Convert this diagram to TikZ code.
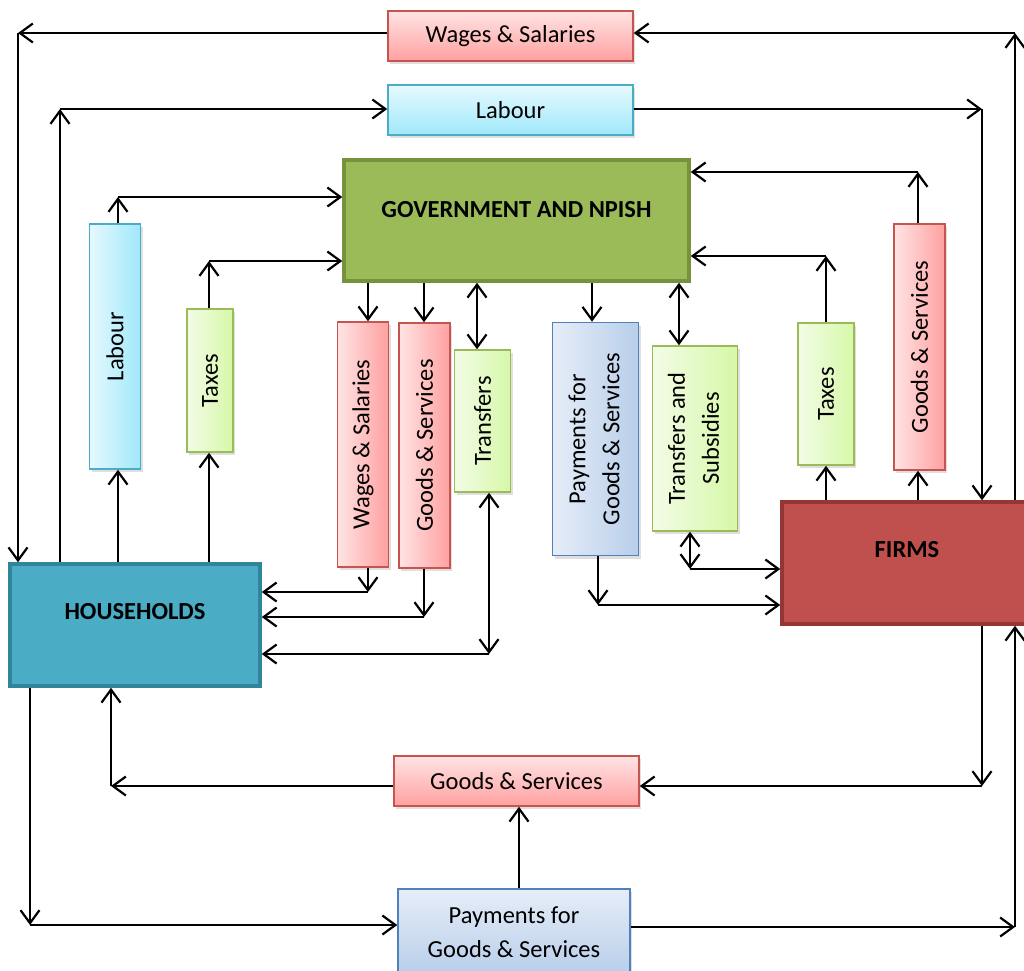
\documentclass[tikz,border=0pt]{standalone}
\usepackage{fontspec}
\usepackage{graphicx}
\setmainfont{Carlito}
\usetikzlibrary{arrows.meta,shadows}
\definecolor{pinkL}{RGB}{255,228,228}
\definecolor{pinkD}{RGB}{255,160,160}
\definecolor{pinkB}{RGB}{200,84,80}
\definecolor{cyanL}{RGB}{230,249,255}
\definecolor{cyanD}{RGB}{160,232,250}
\definecolor{cyanB}{RGB}{75,172,198}
\definecolor{grnL}{RGB}{243,252,230}
\definecolor{grnD}{RGB}{214,248,168}
\definecolor{grnB}{RGB}{155,187,89}
\definecolor{bluL}{RGB}{230,237,248}
\definecolor{bluD}{RGB}{184,206,234}
\definecolor{bluB}{RGB}{79,129,189}
\definecolor{govF}{RGB}{155,187,89}
\definecolor{govB}{RGB}{118,146,60}
\definecolor{hhF}{RGB}{75,172,198}
\definecolor{hhB}{RGB}{49,133,155}
\definecolor{fiF}{RGB}{192,80,77}
\definecolor{fiB}{RGB}{148,54,52}
\begin{document}
\begin{tikzpicture}[x=1pt,y=-1pt,
  every node/.style={font=\fontsize{24.5}{34}\selectfont, inner sep=0pt, align=center},
  box/.style={draw, line width=1.5pt, drop shadow={opacity=0.25,shadow xshift=2pt,shadow yshift=-3pt}},
  pinkh/.style={box, draw=pinkB, top color=pinkL, bottom color=pinkD},
  pinkv/.style={box, draw=pinkB, left color=pinkL, right color=pinkD},
  cyanh/.style={box, draw=cyanB, top color=cyanL, bottom color=cyanD},
  cyanv/.style={box, draw=cyanB, left color=cyanL, right color=cyanD},
  grnv/.style={box, draw=grnB, left color=grnL, right color=grnD},
  bluv/.style={box, draw=bluB, left color=bluL, right color=bluD},
  bluh/.style={box, draw=bluB, top color=bluL, bottom color=bluD},
  bigbox/.style={draw, line width=3.5pt},
  bold/.style={font=\fontsize{24.5}{34}\selectfont\bfseries},
  sz/.style 2 args={minimum width=#1, minimum height=#2},
  arr/.style={line width=2.2pt, -{Straight Barb[length=13pt,width=19pt]}},
  dbl/.style={line width=2.2pt, {Straight Barb[length=13pt,width=19pt]}-{Straight Barb[length=13pt,width=19pt]}}
]
\useasboundingbox (0,0) rectangle (1024,970);
\clip (0,0) rectangle (1024,970);

% top horizontal boxes
\node[pinkh, sz={245pt}{50pt}] (ws1) at (510.5,36) {Wages \& Salaries};
\node[cyanh, sz={245pt}{50pt}] (lab1) at (510.5,110) {Labour};

% main sectors
\node[bigbox, fill=govF, draw=govB, sz={345pt}{121pt},
  label={[bold, yshift=11pt]center:GOVERNMENT AND NPISH}] (gov) at (516.5,220.5) {};
\node[bigbox, fill=hhF, draw=hhB, sz={250pt}{122pt},
  label={[bold, yshift=13pt]center:HOUSEHOLDS}] (hh) at (135,625) {};
\node[bigbox, fill=fiF, draw=fiB, sz={250pt}{122pt},
  label={[bold, yshift=13pt]center:FIRMS}] (firms) at (907,563) {};

% vertical boxes
\node[cyanv, sz={51pt}{245pt}] (labv) at (115,346.5) {\rotatebox{90}{Labour}};
\node[grnv, sz={46pt}{143pt}] (taxL) at (210,380.5) {\rotatebox{90}{Taxes}};
\node[pinkv, sz={51pt}{245pt}] (wsv) at (363,444.5) {\rotatebox{90}{Wages \& Salaries}};
\node[pinkv, sz={51pt}{245pt}] (gsv) at (424.5,445.5) {\rotatebox{90}{Goods \& Services}};
\node[grnv, sz={56pt}{142pt}] (trv) at (482.5,421) {\rotatebox{90}{Transfers}};
\node[bluv, sz={86pt}{233pt}] (payv) at (595.5,439) {\rotatebox{90}{\begin{tabular}{@{}c@{}}Payments for\\Goods \& Services\end{tabular}}};
\node[grnv, sz={85pt}{185pt}] (tsv) at (695,438.5) {\rotatebox{90}{\begin{tabular}{@{}c@{}}Transfers and\\Subsidies\end{tabular}}};
\node[grnv, sz={56pt}{142pt}] (taxR) at (826,394) {\rotatebox{90}{Taxes}};
\node[pinkv, sz={51pt}{246pt}] (gsR) at (919.5,347) {\rotatebox{90}{Goods \& Services}};

% bottom boxes
\node[pinkh, sz={245pt}{50pt}] (gsB) at (516.5,781) {Goods \& Services};
\node[bluh, sz={232pt}{86pt}] (payB) at (514,932) {Payments for\\Goods \& Services};

% corner coordinates
\coordinate (c1) at (1015,33);
\coordinate (c2) at (18,33);
\coordinate (c3) at (60,109);
\coordinate (c4) at (982,109);
\coordinate (c5) at (118,197);
\coordinate (c6) at (209,261);
\coordinate (c7) at (368,592);
\coordinate (c8) at (424,617);
\coordinate (c9a) at (477,300);
\coordinate (c9) at (489,654);
\coordinate (c10a) at (592,300);
\coordinate (c10) at (598,605);
\coordinate (c11a) at (679,300);
\coordinate (c11) at (690,569);
\coordinate (c12) at (826,256);
\coordinate (c13) at (918,172);
\coordinate (c14) at (982,786);
\coordinate (c15) at (111,786);
\coordinate (c16) at (30,925);
\coordinate (c17) at (1015,927);
\coordinate (c18) at (519,850);

% wages loop
\draw[arr] (firms.north -| c1) -- (c1);
\draw[arr] (c1) -- (c1 -| ws1.east);
\draw[arr] (c2 -| ws1.west) -- (c2);
\draw[arr] (c2) -- (c2 |- hh.north);
% labour loop
\draw[arr] (hh.north -| c3) -- (c3);
\draw[arr] (c3) -- (c3 -| lab1.west);
\draw[arr] (lab1.east |- c4) -- (c4);
\draw[arr] (c4) -- (c4 |- firms.north);
% households -> government
\draw[arr] (hh.north -| c5) -- (labv.south -| c5);
\draw[arr] (labv.north -| c5) -- (c5);
\draw[arr] (c5) -- (c5 -| gov.west);
\draw[arr] (hh.north -| c6) -- (taxL.south -| c6);
\draw[arr] (taxL.north -| c6) -- (c6);
\draw[arr] (c6) -- (c6 -| gov.west);
% government -> households
\draw[arr] (gov.south -| c7) -- (wsv.north -| c7);
\draw[arr] (wsv.south -| c7) -- (c7);
\draw[arr] (c7) -- (c7 -| hh.east);
\draw[arr] (gov.south -| c8) -- (gsv.north -| c8);
\draw[arr] (gsv.south -| c8) -- (c8);
\draw[arr] (c8) -- (c8 -| hh.east);
\draw[dbl] (gov.south -| c9a) -- (trv.north -| c9a);
\draw[dbl] (trv.south -| c9) -- (c9);
\draw[arr] (c9) -- (c9 -| hh.east);
% government -> firms
\draw[arr] (gov.south -| c10a) -- (payv.north -| c10a);
\draw[arr] (payv.south -| c10) -- (c10);
\draw[arr] (c10) -- (c10 -| firms.west);
\draw[dbl] (gov.south -| c11a) -- (tsv.north -| c11a);
\draw[dbl] (tsv.south -| c11) -- (c11);
\draw[arr] (c11) -- (c11 -| firms.west);
% firms -> government
\draw[arr] (firms.north -| c12) -- (taxR.south -| c12);
\draw[arr] (taxR.north -| c12) -- (c12);
\draw[arr] (c12) -- (c12 -| gov.east);
\draw[arr] (firms.north -| c13) -- (gsR.south -| c13);
\draw[arr] (gsR.north -| c13) -- (c13);
\draw[arr] (c13) -- (c13 -| gov.east);
% bottom loop
\draw[arr] (firms.south -| c14) -- (c14);
\draw[arr] (c14) -- (c14 -| gsB.east);
\draw[arr] (gsB.west |- c15) -- (c15);
\draw[arr] (c15) -- (c15 |- hh.south);
\draw[arr] (payB.north -| c18) -- (gsB.south -| c18);
\draw[arr] (hh.south -| c16) -- (c16);
\draw[arr] (c16) -- (c16 -| payB.west);
\draw[arr] (payB.east |- c17) -- (c17);
\draw[arr] (c17) -- (c17 |- firms.south);
\end{tikzpicture}
\end{document}
